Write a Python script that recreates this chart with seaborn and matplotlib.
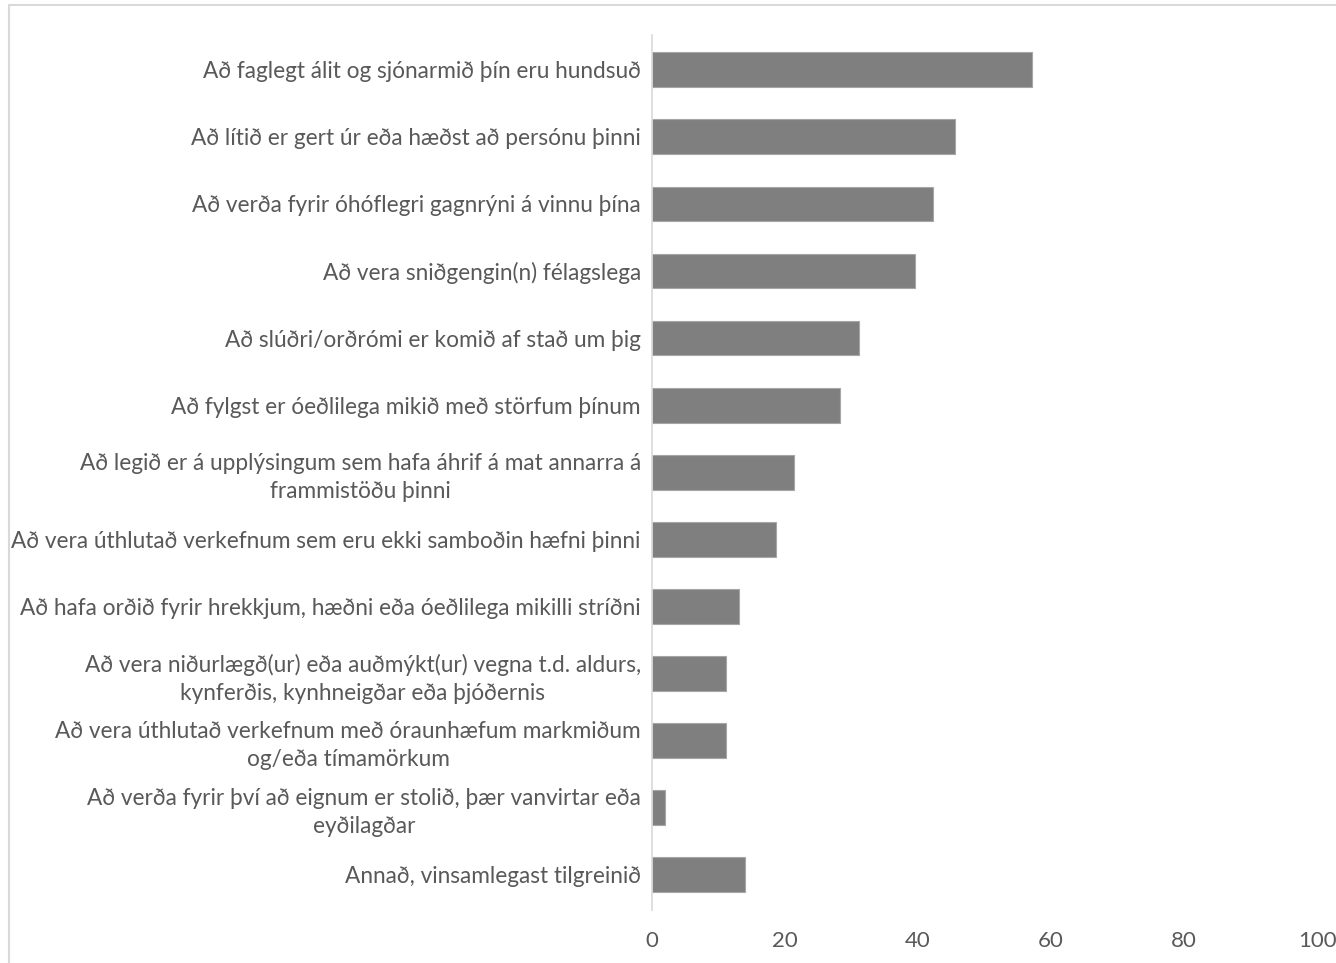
import matplotlib.pyplot as plt
import matplotlib.patches as mpatches
import pandas as pd
import seaborn as sns

# ── Data ───────────────────────────────────────────────────────────────────────
CATEGORIES = [
    "Að faglegt álit og sjónarmið þín eru hundsuð",
    "Að lítið er gert úr eða hæðst að persónu þinni",
    "Að verða fyrir óhóflegri gagnrýni á vinnu þína",
    "Að vera sniðgengin(n) félagslega",
    "Að slúðri/orðrómi er komið af stað um þig",
    "Að fylgst er óeðlilega mikið með störfum þínum",
    "Að legið er á upplýsingum sem hafa áhrif á mat annarra á\nframmistöðu þinni",
    "Að vera úthlutað verkefnum sem eru ekki samboðin hæfni þinni",
    "Að hafa orðið fyrir hrekkjum, hæðni eða óeðlilega mikilli stríðni",
    "Að vera niðurlægð(ur) eða auðmýkt(ur) vegna t.d. aldurs,\nkynferðis, kynhneigðar eða þjóðernis",
    "Að vera úthlutað verkefnum með óraunhæfum markmiðum\nog/eða tímamörkum",
    "Að verða fyrir því að eignum er stolið, þær vanvirtar eða\neyðilagðar",
    "Annað, vinsamlegast tilgreinið",
]
VALUES = [57.1, 45.5, 42.2, 39.5, 31.2, 28.3, 21.3, 18.7, 13.1, 11.1, 11.1, 1.9, 14.0]
X_TICKS = [0, 20, 40, 60, 80, 100]

BAR_COLOUR  = "#7f7f7f"
TEXT_COLOUR = "#595959"
LINE_COLOUR = "#d9d9d9"

sns.set_theme(style="white")
plt.rcParams["font.family"] = ["Lato", "DejaVu Sans"]

df = pd.DataFrame({"category": CATEGORIES, "value": VALUES})

fig = plt.figure(figsize=(13.36, 9.63), dpi=100)
ax = fig.add_axes([0.488, 0.055, 0.4978, 0.9087])

sns.barplot(data=df, y="category", x="value", orient="h", color=BAR_COLOUR,
            width=0.52, edgecolor="#a6a6a6", linewidth=0.8, saturation=1, ax=ax)

ax.set_xlim(0, 100)
ax.set_ylim(12.53, -0.52)
ax.set_xticks(X_TICKS)
ax.set_xticklabels([str(t) for t in X_TICKS], fontsize=16, color=TEXT_COLOUR)
ax.set_yticks(range(len(CATEGORIES)))
ax.set_yticklabels(CATEGORIES, fontsize=16.3, color=TEXT_COLOUR,
                   multialignment="center", linespacing=1.4)
ax.tick_params(axis="y", length=0, pad=8)
ax.tick_params(axis="x", length=0, pad=15)
ax.set_xlabel("")
ax.set_ylabel("")

for side in ("top", "right", "bottom"):
    ax.spines[side].set_visible(False)
ax.spines["left"].set_color(LINE_COLOUR)
ax.spines["left"].set_linewidth(1.2)

# light chart-area border as in the source
fig.patches.append(mpatches.Rectangle(
    (9 / 1336, -0.05), 1.2, (963 - 5) / 963 + 0.05,
    transform=fig.transFigure, fill=False, edgecolor=LINE_COLOUR, linewidth=1.5))

fig.savefig("out.png", dpi=100)
plt.close(fig)
